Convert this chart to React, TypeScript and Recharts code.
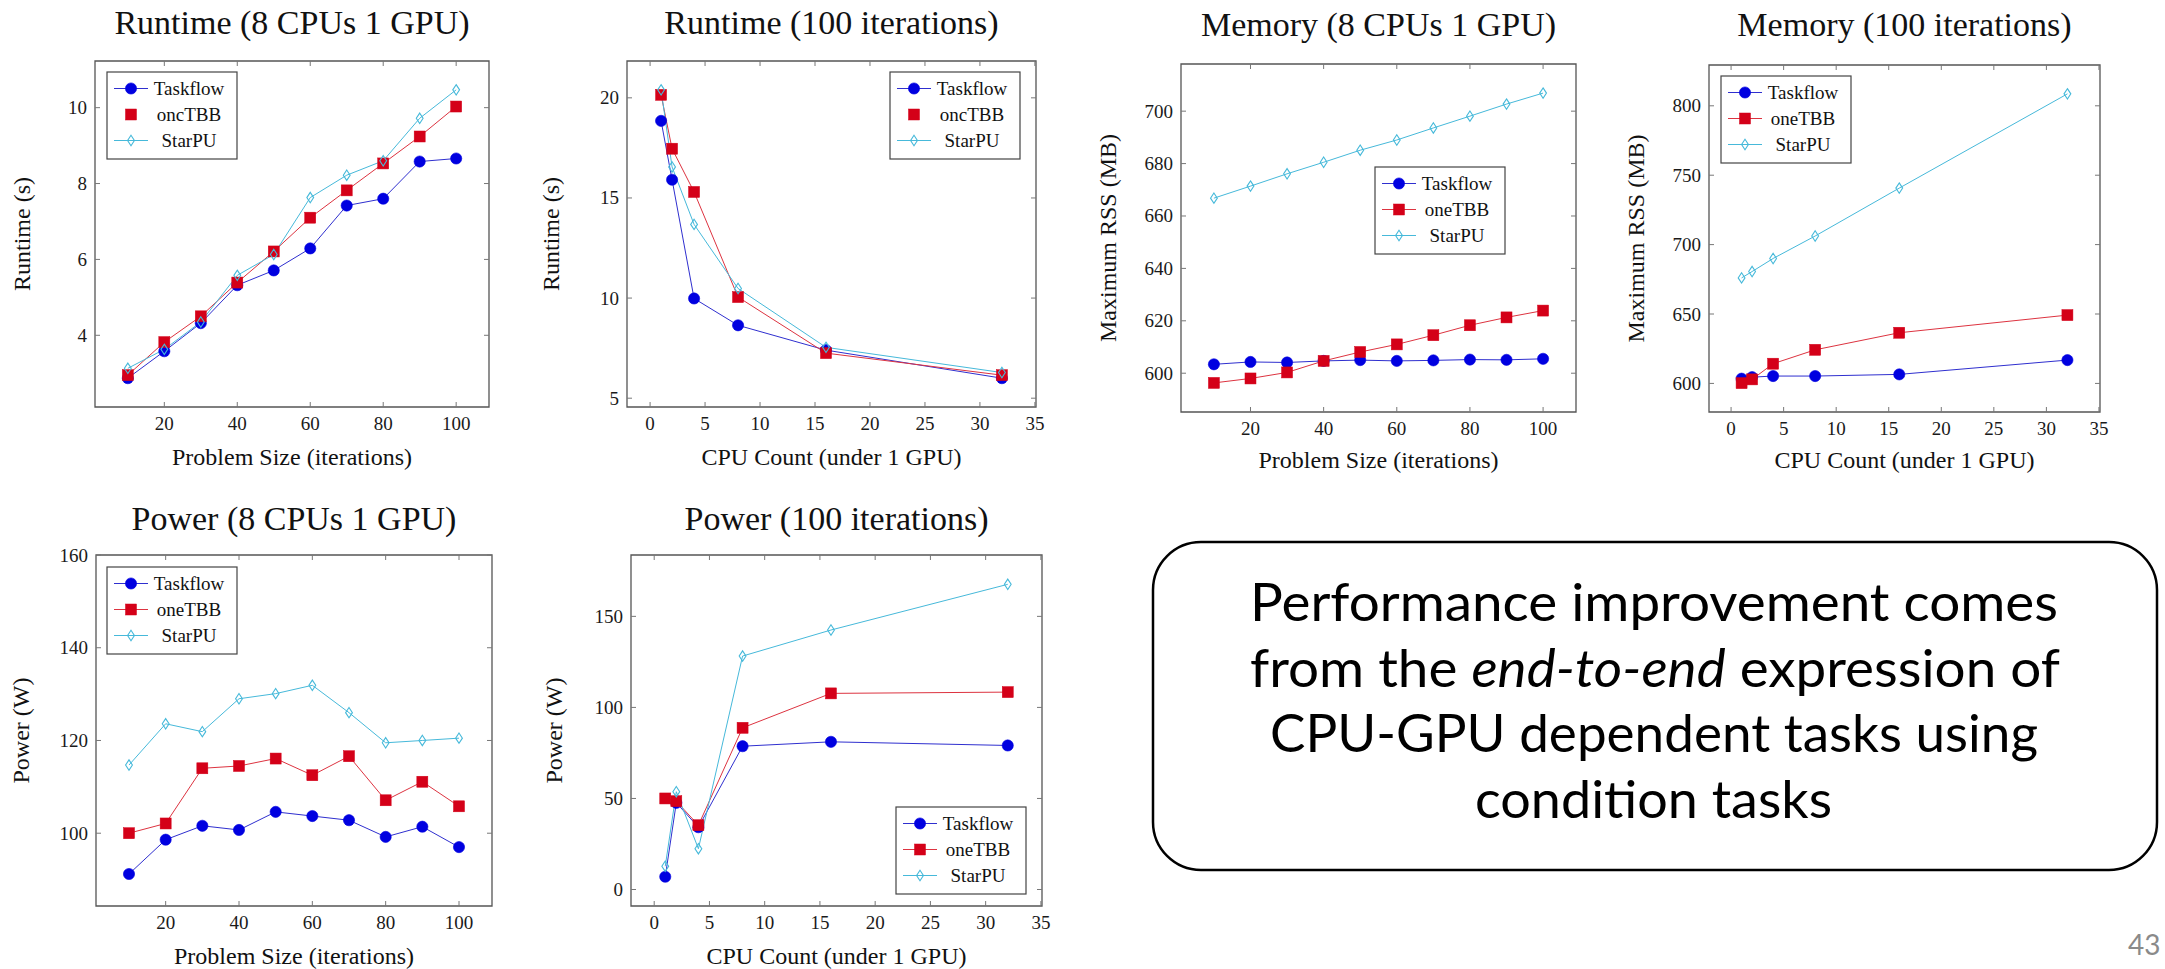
import React from 'react';
import { LineChart, Line, XAxis, YAxis, ReferenceArea } from 'recharts';

// ---------- data ----------
const problemSizes = [10, 20, 30, 40, 50, 60, 70, 80, 90, 100];
const cpuCounts = [1, 2, 4, 8, 16, 32];

const runtime8Taskflow = [2.87, 3.58, 4.32, 5.32, 5.71, 6.29, 7.42, 7.6, 8.58, 8.66];
const runtime8OneTBB = [2.95, 3.82, 4.5, 5.39, 6.21, 7.1, 7.82, 8.53, 9.24, 10.03];
const runtime8StarPU = [3.13, 3.63, 4.35, 5.58, 6.13, 7.63, 8.22, 8.6, 9.72, 10.47];

const runtime100Taskflow = [18.85, 15.91, 9.98, 8.64, 7.4, 6.0];
const runtime100OneTBB = [20.15, 17.46, 15.3, 10.05, 7.25, 6.15];
const runtime100StarPU = [20.4, 16.55, 13.68, 10.48, 7.54, 6.28];

const memory8Taskflow = [603.4, 604.3, 604.1, 604.7, 605.0, 604.7, 604.9, 605.2, 605.1, 605.5];
const memory8OneTBB = [596.3, 598.0, 600.3, 604.7, 608.1, 611.0, 614.5, 618.3, 621.3, 623.9];
const memory8StarPU = [666.8, 671.4, 676.1, 680.5, 685.1, 689.0, 693.6, 698.1, 702.7, 706.9];

const memory100Taskflow = [603.4, 604.5, 605.3, 605.3, 606.5, 616.8];
const memory100OneTBB = [600.2, 602.9, 614.2, 624.2, 636.5, 649.2];
const memory100StarPU = [676.0, 680.6, 690.0, 706.2, 740.7, 808.6];

const power8Taskflow = [91.2, 98.6, 101.6, 100.7, 104.6, 103.7, 102.8, 99.2, 101.4, 97.0];
const power8OneTBB = [100.0, 102.1, 114.0, 114.5, 116.1, 112.5, 116.6, 107.1, 111.1, 105.8];
const power8StarPU = [114.7, 123.6, 121.9, 129.0, 130.1, 131.9, 126.0, 119.5, 120.0, 120.5];

const power100Taskflow = [7.0, 47.6, 34.2, 78.7, 81.1, 79.1];
const power100OneTBB = [50.0, 48.5, 35.3, 88.8, 107.7, 108.4];
const power100StarPU = [12.8, 53.7, 22.4, 128.2, 142.5, 167.6];

const sizeTicks = [20, 40, 60, 80, 100];
const cpuTicks = [0, 5, 10, 15, 20, 25, 30, 35];
const runtime8Ticks = [4, 6, 8, 10];
const runtime100Ticks = [5, 10, 15, 20];
const memory8Ticks = [600, 620, 640, 660, 680, 700];
const memory100Ticks = [600, 650, 700, 750, 800];
const power8Ticks = [100, 120, 140, 160];
const power100Ticks = [0, 50, 100, 150];

const sizeDomain: [number, number] = [1, 109];
const cpuDomain: [number, number] = [-2.1, 35.1];

const mk = (xs: number[], a: number[], b: number[], c: number[]) =>
  xs.map((x, i) => ({ x, tf: a[i], tbb: b[i], sp: c[i] }));

// ---------- style ----------
const SERIF = "'Liberation Serif','Times New Roman',Times,serif";
const SANS = "Lato,'Open Sans','Noto Sans',sans-serif";
const BLUE_LINE = '#2f2fcf';
const BLUE_MARK = '#0000e0';
const RED_LINE = '#dd3340';
const RED_MARK = '#d40018';
const CYAN = '#46b9da';
const FRAME = '#555';
const TICK = '#777';

const YW = 60;
const MT = 10;
const MR = 24;
const XH = 40;

const MarkCircle = ({ cx, cy }: { cx: number; cy: number }) => (
  <circle cx={cx} cy={cy} r={5.6} fill={BLUE_MARK} stroke={BLUE_MARK} strokeWidth={0.6} />
);
const MarkSquare = ({ cx, cy }: { cx: number; cy: number }) => (
  <rect x={cx - 5.5} y={cy - 5.5} width={11} height={11} fill={RED_MARK} stroke={RED_MARK} strokeWidth={0.5} />
);
const MarkDiamond = ({ cx, cy }: { cx: number; cy: number }) => (
  <path
    d={`M${cx},${cy - 5.2} L${cx + 3.4},${cy} L${cx},${cy + 5.2} L${cx - 3.4},${cy} Z`}
    fill="none"
    stroke={CYAN}
    strokeWidth={1.1}
  />
);

type PanelCfg = {
  frame: [number, number, number, number];
  data: { x: number; tf: number; tbb: number; sp: number }[];
  xDomain: [number, number];
  yDomain: [number, number];
  xTicks: number[];
  yTicks: number[];
  xTickBase: number;
};

function Panel({ frame, data, xDomain, yDomain, xTicks, yTicks, xTickBase }: PanelCfg) {
  const [x0, y0, x1, y1] = frame;
  const fw = x1 - x0;
  const fh = y1 - y0;
  const W = fw + YW + MR;
  const H = fh + MT + XH;
  const left = YW;
  const right = YW + fw;
  const top = MT;
  const bottom = MT + fh;
  const tickBaseLocal = xTickBase - (y0 - MT);

  const xTick = (p: any) => (
    <g key={`xt-${p.index}`}>
      <line x1={p.x} y1={bottom} x2={p.x} y2={bottom - 5} stroke={TICK} strokeWidth={1} />
      <line x1={p.x} y1={top} x2={p.x} y2={top + 5} stroke={TICK} strokeWidth={1} />
      <text x={p.x} y={tickBaseLocal} textAnchor="middle" fontFamily={SERIF} fontSize={19} fill="#1a1a1a">
        {p.payload.value}
      </text>
    </g>
  );
  const yTick = (p: any) => (
    <g key={`yt-${p.index}`}>
      <line x1={left} y1={p.y} x2={left + 5} y2={p.y} stroke={TICK} strokeWidth={1} />
      <line x1={right} y1={p.y} x2={right - 5} y2={p.y} stroke={TICK} strokeWidth={1} />
      <text x={left - 8} y={p.y + 6.5} textAnchor="end" fontFamily={SERIF} fontSize={19} fill="#1a1a1a">
        {p.payload.value}
      </text>
    </g>
  );

  return (
    <div style={{ position: 'absolute', left: x0 - YW, top: y0 - MT }}>
      <LineChart width={W} height={H} data={data} margin={{ top: MT, right: MR, bottom: 0, left: 0 }}>
        <XAxis
          type="number"
          dataKey="x"
          domain={xDomain}
          ticks={xTicks}
          allowDataOverflow
          interval={0}
          axisLine={false}
          tickLine={false}
          height={XH}
          tick={xTick}
        />
        <YAxis
          type="number"
          domain={yDomain}
          ticks={yTicks}
          allowDataOverflow
          interval={0}
          axisLine={false}
          tickLine={false}
          width={YW}
          tick={yTick}
        />
        <ReferenceArea
          x1={xDomain[0]}
          x2={xDomain[1]}
          y1={yDomain[0]}
          y2={yDomain[1]}
          fill="none"
          fillOpacity={0}
          stroke={FRAME}
          strokeWidth={1.3}
          ifOverflow="visible"
        />
        <Line
          type="linear"
          dataKey="tf"
          stroke={BLUE_LINE}
          strokeWidth={1}
          isAnimationActive={false}
          activeDot={false}
          dot={(p: any) => <MarkCircle key={`tf-${p.index}`} cx={p.cx} cy={p.cy} />}
        />
        <Line
          type="linear"
          dataKey="tbb"
          stroke={RED_LINE}
          strokeWidth={1}
          isAnimationActive={false}
          activeDot={false}
          dot={(p: any) => <MarkSquare key={`tbb-${p.index}`} cx={p.cx} cy={p.cy} />}
        />
        <Line
          type="linear"
          dataKey="sp"
          stroke={CYAN}
          strokeWidth={1}
          isAnimationActive={false}
          activeDot={false}
          dot={(p: any) => <MarkDiamond key={`sp-${p.index}`} cx={p.cx} cy={p.cy} />}
        />
      </LineChart>
    </div>
  );
}

function LegendBox({ x, y, tbbName, tbbLine }: { x: number; y: number; tbbName: string; tbbLine: boolean }) {
  const rows = [
    { name: 'Taskflow', kind: 'tf', line: true, color: BLUE_LINE },
    { name: tbbName, kind: 'tbb', line: tbbLine, color: RED_LINE },
    { name: 'StarPU', kind: 'sp', line: true, color: CYAN },
  ];
  return (
    <g>
      <rect x={x} y={y} width={130} height={87} fill="#fff" stroke="#444" strokeWidth={1.2} />
      {rows.map((r, i) => {
        const cy = y + 16.5 + 26 * i;
        const mx = x + 24;
        return (
          <g key={r.name}>
            {r.line && <line x1={x + 7} y1={cy} x2={x + 41} y2={cy} stroke={r.color} strokeWidth={1} />}
            {r.kind === 'tf' && <MarkCircle cx={mx} cy={cy} />}
            {r.kind === 'tbb' && <MarkSquare cx={mx} cy={cy} />}
            {r.kind === 'sp' && <MarkDiamond cx={mx} cy={cy} />}
            <text x={x + 82} y={cy + 6.5} textAnchor="middle" fontFamily={SERIF} fontSize={19} fill="#111">
              {r.name}
            </text>
          </g>
        );
      })}
    </g>
  );
}

const panels: (PanelCfg & {
  title: string;
  titleBase: number;
  xLabel: string;
  xLabelBase: number;
  yLabel: string;
  yLabelX: number;
  legend: { x: number; y: number; name: string; line: boolean };
})[] = [
  {
    frame: [95, 61, 489, 407],
    data: mk(problemSizes, runtime8Taskflow, runtime8OneTBB, runtime8StarPU),
    xDomain: sizeDomain,
    yDomain: [2.11, 11.23],
    xTicks: sizeTicks,
    yTicks: runtime8Ticks,
    xTickBase: 430,
    title: 'Runtime (8 CPUs 1 GPU)',
    titleBase: 34,
    xLabel: 'Problem Size (iterations)',
    xLabelBase: 465,
    yLabel: 'Runtime (s)',
    yLabelX: 30,
    legend: { x: 107, y: 72, name: 'oncTBB', line: false },
  },
  {
    frame: [627, 61, 1036, 407],
    data: mk(cpuCounts, runtime100Taskflow, runtime100OneTBB, runtime100StarPU),
    xDomain: cpuDomain,
    yDomain: [4.56, 21.84],
    xTicks: cpuTicks,
    yTicks: runtime100Ticks,
    xTickBase: 430,
    title: 'Runtime (100 iterations)',
    titleBase: 34,
    xLabel: 'CPU Count (under 1 GPU)',
    xLabelBase: 465,
    yLabel: 'Runtime (s)',
    yLabelX: 559,
    legend: { x: 890, y: 72, name: 'oncTBB', line: false },
  },
  {
    frame: [1181, 64, 1576, 412],
    data: mk(problemSizes, memory8Taskflow, memory8OneTBB, memory8StarPU),
    xDomain: sizeDomain,
    yDomain: [585.2, 718.0],
    xTicks: sizeTicks,
    yTicks: memory8Ticks,
    xTickBase: 435,
    title: 'Memory (8 CPUs 1 GPU)',
    titleBase: 36,
    xLabel: 'Problem Size (iterations)',
    xLabelBase: 468,
    yLabel: 'Maximum RSS (MB)',
    yLabelX: 1116,
    legend: { x: 1375, y: 167, name: 'oneTBB', line: true },
  },
  {
    frame: [1709, 65, 2100, 412],
    data: mk(cpuCounts, memory100Taskflow, memory100OneTBB, memory100StarPU),
    xDomain: cpuDomain,
    yDomain: [579.4, 829.4],
    xTicks: cpuTicks,
    yTicks: memory100Ticks,
    xTickBase: 435,
    title: 'Memory (100 iterations)',
    titleBase: 36,
    xLabel: 'CPU Count (under 1 GPU)',
    xLabelBase: 468,
    yLabel: 'Maximum RSS (MB)',
    yLabelX: 1644,
    legend: { x: 1721, y: 76, name: 'oneTBB', line: true },
  },
  {
    frame: [96, 555, 492, 906],
    data: mk(problemSizes, power8Taskflow, power8OneTBB, power8StarPU),
    xDomain: sizeDomain,
    yDomain: [84.3, 160],
    xTicks: sizeTicks,
    yTicks: power8Ticks,
    xTickBase: 929,
    title: 'Power (8 CPUs 1 GPU)',
    titleBase: 530,
    xLabel: 'Problem Size (iterations)',
    xLabelBase: 964,
    yLabel: 'Power (W)',
    yLabelX: 29,
    legend: { x: 107, y: 567, name: 'oneTBB', line: true },
  },
  {
    frame: [631, 555, 1042, 906],
    data: mk(cpuCounts, power100Taskflow, power100OneTBB, power100StarPU),
    xDomain: cpuDomain,
    yDomain: [-9.06, 183.7],
    xTicks: cpuTicks,
    yTicks: power100Ticks,
    xTickBase: 929,
    title: 'Power (100 iterations)',
    titleBase: 530,
    xLabel: 'CPU Count (under 1 GPU)',
    xLabelBase: 964,
    yLabel: 'Power (W)',
    yLabelX: 562,
    legend: { x: 896, y: 807, name: 'oneTBB', line: true },
  },
];

const noteLines = [
  { x: 1250, y: 621, w: 808 },
  { x: 1250, y: 687, w: 810 },
  { x: 1270, y: 752, w: 768 },
  { x: 1475, y: 818, w: 357 },
];

export default function App() {
  return (
    <div
      style={{
        position: 'absolute',
        left: 0,
        top: 0,
        width: 2165,
        height: 969,
        background: '#fff',
        overflow: 'hidden',
      }}
    >
      {panels.map((p, i) => (
        <Panel
          key={i}
          frame={p.frame}
          data={p.data}
          xDomain={p.xDomain}
          yDomain={p.yDomain}
          xTicks={p.xTicks}
          yTicks={p.yTicks}
          xTickBase={p.xTickBase}
        />
      ))}
      <svg
        width={2165}
        height={969}
        style={{ position: 'absolute', left: 0, top: 0, pointerEvents: 'none' }}
      >
        {panels.map((p, i) => {
          const cx = (p.frame[0] + p.frame[2]) / 2;
          const cy = (p.frame[1] + p.frame[3]) / 2;
          return (
            <g key={`t-${i}`}>
              <text x={cx} y={p.titleBase} textAnchor="middle" fontFamily={SERIF} fontSize={34} fill="#111">
                {p.title}
              </text>
              <text x={cx} y={p.xLabelBase} textAnchor="middle" fontFamily={SERIF} fontSize={24} fill="#111">
                {p.xLabel}
              </text>
              <text
                x={p.yLabelX}
                y={cy}
                textAnchor="middle"
                fontFamily={SERIF}
                fontSize={24}
                fill="#111"
                transform={`rotate(-90 ${p.yLabelX} ${cy})`}
              >
                {p.yLabel}
              </text>
              <LegendBox x={p.legend.x} y={p.legend.y} tbbName={p.legend.name} tbbLine={p.legend.line} />
            </g>
          );
        })}
        <rect x={1153} y={542} width={1004} height={328} rx={48} ry={48} fill="none" stroke="#000" strokeWidth={2.5} />
        <text x={noteLines[0].x} y={noteLines[0].y} textLength={noteLines[0].w} lengthAdjust="spacingAndGlyphs" fontFamily={SANS} fontSize={52} fill="#000">
          Performance improvement comes
        </text>
        <text x={noteLines[1].x} y={noteLines[1].y} textLength={noteLines[1].w} lengthAdjust="spacingAndGlyphs" fontFamily={SANS} fontSize={52} fill="#000">
          {'from the '}
          <tspan fontStyle="italic">end-to-end</tspan>
          {' expression of'}
        </text>
        <text x={noteLines[2].x} y={noteLines[2].y} textLength={noteLines[2].w} lengthAdjust="spacingAndGlyphs" fontFamily={SANS} fontSize={52} fill="#000">
          CPU-GPU dependent tasks using
        </text>
        <text x={noteLines[3].x} y={noteLines[3].y} textLength={noteLines[3].w} lengthAdjust="spacingAndGlyphs" fontFamily={SANS} fontSize={52} fill="#000">
          condition tasks
        </text>
        <text x={2128} y={955} fontFamily={SANS} fontSize={28} fill="#8a8a8a">
          43
        </text>
      </svg>
    </div>
  );
}
